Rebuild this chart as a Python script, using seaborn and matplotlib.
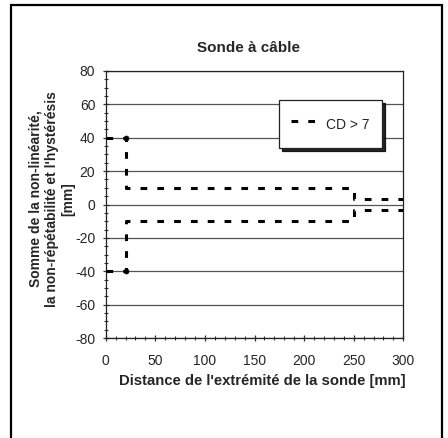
import matplotlib
matplotlib.use("Agg")
import matplotlib.pyplot as plt
from matplotlib.patches import Rectangle
from matplotlib.ticker import MultipleLocator
import numpy as np
import pandas as pd
import seaborn as sns

# Error envelope of the cable probe (upper and lower bounds)
distance_mm = [0, 20, 20, 250, 250, 300]
upper_mm = [40, 40, 10, 10, 3, 3]
lower_mm = [-40, -40, -10, -10, -3, -3]
marker_x = [20, 20]
marker_y = [40, -40]

series_label = "CD > 7"
title = "Sonde à câble"
xlabel = "Distance de l'extrémité de la sonde [mm]"
ylabel = "Somme de la non-linéarité,\nla non-répétabilité et l'hystérésis\n[mm]"

sns.set_style("white")
plt.rcParams["font.family"] = ["Liberation Sans", "DejaVu Sans"]
plt.rcParams["axes.unicode_minus"] = False

fig = plt.figure(figsize=(4.48, 4.38), dpi=100)
W, H = 448, 438
x0, x1, ytop, ybot = 105.7, 403.3, 71, 338
ax = fig.add_axes([x0 / W, 1 - ybot / H, (x1 - x0) / W, (ybot - ytop) / H])

upper = pd.DataFrame({"x": distance_mm, "y": upper_mm})
lower = pd.DataFrame({"x": distance_mm, "y": lower_mm})
dash = (2.2, 3.3)
sns.lineplot(data=upper, x="x", y="y", sort=False, estimator=None, ax=ax,
             color="black", lw=2.2, dashes=False, label=series_label, zorder=3)
sns.lineplot(data=lower, x="x", y="y", sort=False, estimator=None, ax=ax,
             color="black", lw=2.2, dashes=False, zorder=3)
for ln in ax.get_lines():
    ln.set_dashes(dash)
    ln.set_dash_capstyle("butt")
sns.scatterplot(x=marker_x, y=marker_y, ax=ax, color="black", s=14,
                edgecolor="black", zorder=4)

ax.set_xlim(0, 300)
ax.set_ylim(-80, 80)
ax.xaxis.set_major_locator(MultipleLocator(50))
ax.xaxis.set_minor_locator(MultipleLocator(10))
ax.yaxis.set_major_locator(MultipleLocator(20))
ax.yaxis.set_minor_locator(MultipleLocator(5))
ax.grid(axis="y", which="major", color="#555555", lw=0.9, zorder=1)
ax.set_axisbelow(True)
ax.tick_params(axis="both", which="major", direction="inout", length=5,
               width=0.9, color="#333333", labelsize=10, pad=5)
ax.tick_params(axis="both", which="minor", direction="inout", length=3,
               width=0.8, color="#333333")
ax.tick_params(axis="x", bottom=True, which="both")
ax.tick_params(axis="y", left=True, which="both")
ax.tick_params(axis="x", which="major", pad=9)
for s in ax.spines.values():
    s.set_visible(True)
    s.set_color("#222222")
    s.set_linewidth(0.9)
ax.set_xlabel("")
ax.set_ylabel("")

leg = ax.legend(loc="upper left", bbox_to_anchor=(0.582, 0.891), frameon=True,
                fancybox=False, shadow={"color": "black", "alpha": 0.85},
                fontsize=10, handlelength=1.8, handleheight=2.2,
                borderpad=0.9, borderaxespad=0, handletextpad=0.7)
leg.get_frame().set_edgecolor("#222222")
leg.get_frame().set_linewidth(0.9)
leg.set_zorder(5)

fig.text(248.5 / W, 1 - 48 / H, title, ha="center", va="center",
         fontsize=11, fontweight="bold")
fig.text(262.5 / W, 1 - 381 / H, xlabel, ha="center", va="center",
         fontsize=10.7, fontweight="bold")
fig.text(52 / W, 1 - 199 / H, ylabel, ha="center", va="center", rotation=90,
         fontsize=10, fontweight="bold", linespacing=1.2, multialignment="center")

fig.add_artist(Rectangle((10.5 / W, -0.05), (442 - 10.5) / W, 1.05 - 5.5 / H,
                         transform=fig.transFigure, fill=False, lw=1.6,
                         edgecolor="black"))

fig.savefig("out.png", dpi=100)
